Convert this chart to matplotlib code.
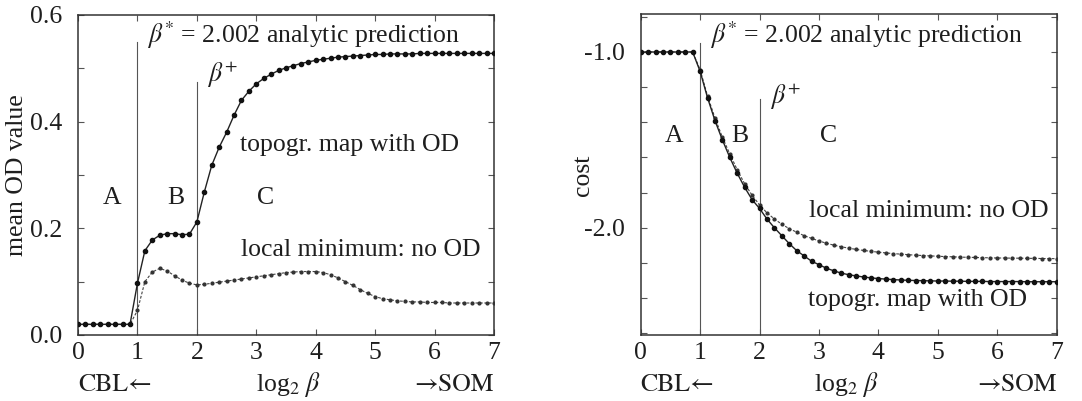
import matplotlib
matplotlib.use("Agg")
import matplotlib.pyplot as plt
from matplotlib.ticker import MultipleLocator, FixedLocator, FuncFormatter
import matplotlib.transforms as mtransforms

plt.rcParams["font.family"] = ["Liberation Serif", "DejaVu Serif"]
plt.rcParams["mathtext.fontset"] = "stix"

# log2(beta) grid, step 1/8
log2_beta = [
    0.0, 0.125, 0.25, 0.375, 0.5, 0.625, 0.75, 0.875,
    1.0, 1.125, 1.25, 1.375, 1.5, 1.625, 1.75, 1.875,
    2.0, 2.125, 2.25, 2.375, 2.5, 2.625, 2.75, 2.875,
    3.0, 3.125, 3.25, 3.375, 3.5, 3.625, 3.75, 3.875,
    4.0, 4.125, 4.25, 4.375, 4.5, 4.625, 4.75, 4.875,
    5.0, 5.125, 5.25, 5.375, 5.5, 5.625, 5.75, 5.875,
    6.0, 6.125, 6.25, 6.375, 6.5, 6.625, 6.75, 6.875,
    7.0,
]

# mean OD value
od_topo = [
    0.02, 0.02, 0.02, 0.02, 0.02, 0.02, 0.02, 0.02,
    0.097, 0.158, 0.178, 0.187, 0.190, 0.190, 0.188, 0.189,
    0.212, 0.268, 0.318, 0.352, 0.380, 0.412, 0.440, 0.457,
    0.471, 0.481, 0.489, 0.496, 0.501, 0.505, 0.509, 0.512,
    0.515, 0.517, 0.519, 0.521, 0.522, 0.523, 0.524, 0.525,
    0.526, 0.526, 0.527, 0.527, 0.527, 0.527, 0.528, 0.528,
    0.528, 0.528, 0.528, 0.528, 0.528, 0.528, 0.528, 0.528,
    0.528,
]
od_local = [
    0.02, 0.02, 0.02, 0.02, 0.02, 0.02, 0.02, 0.02,
    0.046, 0.100, 0.118, 0.125, 0.120, 0.111, 0.103, 0.097,
    0.094, 0.095, 0.097, 0.099, 0.101, 0.103, 0.105, 0.107,
    0.109, 0.111, 0.113, 0.115, 0.117, 0.118, 0.119, 0.119,
    0.119, 0.117, 0.113, 0.107, 0.100, 0.093, 0.085, 0.078,
    0.072, 0.068, 0.066, 0.064, 0.063, 0.062, 0.062, 0.061,
    0.061, 0.061, 0.060, 0.060, 0.060, 0.060, 0.060, 0.060,
    0.060,
]

# cost
cost_topo = [
    -1.0, -1.0, -1.0, -1.0, -1.0, -1.0, -1.0, -1.0,
    -1.11, -1.26, -1.39, -1.50, -1.60, -1.69, -1.77, -1.84,
    -1.89, -1.95, -2.00, -2.045, -2.09, -2.13, -2.16, -2.19,
    -2.21, -2.23, -2.245, -2.258, -2.267, -2.274, -2.28, -2.285,
    -2.289, -2.292, -2.295, -2.297, -2.299, -2.300, -2.301, -2.302,
    -2.303, -2.303, -2.304, -2.304, -2.305, -2.305, -2.305, -2.306,
    -2.306, -2.306, -2.306, -2.306, -2.307, -2.307, -2.307, -2.307,
    -2.307,
]
cost_local = [
    -1.0, -1.0, -1.0, -1.0, -1.0, -1.0, -1.0, -1.0,
    -1.10, -1.25, -1.375, -1.485, -1.58, -1.67, -1.75, -1.815,
    -1.87, -1.915, -1.95, -1.98, -2.005, -2.025, -2.045, -2.06,
    -2.075, -2.088, -2.099, -2.108, -2.116, -2.123, -2.129, -2.134,
    -2.139, -2.143, -2.147, -2.150, -2.153, -2.156, -2.158, -2.160,
    -2.162, -2.164, -2.165, -2.167, -2.168, -2.169, -2.170, -2.171,
    -2.172, -2.172, -2.173, -2.173, -2.174, -2.174, -2.175, -2.175,
    -2.176,
]

ink = "#1e1e1e"
fs = 18.5

fig = plt.figure(figsize=(10.82, 4.01), dpi=100)
ax1 = fig.add_axes([0.0721, 0.1646, 0.3845, 0.798])
ax2 = fig.add_axes([0.5921, 0.1646, 0.3845, 0.800])


def style(ax):
    for s in ax.spines.values():
        s.set_color("#333333")
        s.set_linewidth(1.1)
    ax.tick_params(which="both", direction="in", top=True, right=True,
                   length=4, width=0.8, color="#555555",
                   labelsize=fs, labelcolor=ink)
    ax.tick_params(axis="x", pad=5)
    ax.tick_params(axis="y", pad=11)
    ax.set_xlim(0, 7)
    ax.xaxis.set_major_locator(MultipleLocator(1))


def curves(ax, topo, local):
    ax.plot(log2_beta, local, color="#444444", lw=0.8, dashes=(2.5, 1.5),
            marker="o", ms=2.0, mec="#333333", mfc="#333333", zorder=3)
    ax.plot(log2_beta, topo, color="#222222", lw=1.0,
            marker="o", ms=3.0, mec="#111111", mfc="#111111", zorder=4)


# left panel: mean OD value
style(ax1)
ax1.set_ylim(0, 0.6)
ax1.yaxis.set_major_locator(MultipleLocator(0.2))
ax1.yaxis.set_minor_locator(MultipleLocator(0.1))
ax1.yaxis.set_major_formatter(FuncFormatter(lambda v, p: "%.1f" % v))
ax1.plot([1, 1], [0, 0.55], color="#555555", lw=0.8)
ax1.plot([2, 2], [0, 0.475], color="#555555", lw=0.8)
curves(ax1, od_topo, od_local)
ax1.text(1.16, 0.562, r"$\beta^{*}$ = 2.002 analytic prediction", fontsize=fs,
         color=ink, va="center", ha="left")
ax1.text(2.17, 0.487, r"$\beta^{+}$", fontsize=fs, color=ink, va="center")
ax1.text(2.72, 0.356, "topogr. map with OD", fontsize=fs, color=ink, va="center")
ax1.text(2.74, 0.159, "local minimum: no OD", fontsize=fs, color=ink, va="center")
ax1.text(0.57, 0.257, "A", fontsize=fs, color=ink, va="center", ha="center")
ax1.text(1.65, 0.257, "B", fontsize=fs, color=ink, va="center", ha="center")
ax1.text(3.15, 0.257, "C", fontsize=fs, color=ink, va="center", ha="center")

# right panel: cost
style(ax2)
ax2.set_ylim(-2.61, -0.785)
ax2.yaxis.set_major_locator(FixedLocator([-2.0, -1.0]))
ax2.yaxis.set_minor_locator(FixedLocator([-2.6, -2.4, -2.2, -1.8, -1.6, -1.4, -1.2, -0.8]))
ax2.yaxis.set_major_formatter(FuncFormatter(lambda v, p: "%.1f" % v))
ax2.plot([1, 1], [-2.61, -0.95], color="#555555", lw=0.8)
ax2.plot([2, 2], [-2.61, -1.27], color="#555555", lw=0.8)
curves(ax2, cost_topo, cost_local)
ax2.text(1.17, -0.903, r"$\beta^{*}$ = 2.002 analytic prediction", fontsize=fs,
         color=ink, va="center", ha="left")
ax2.text(2.18, -1.254, r"$\beta^{+}$", fontsize=fs, color=ink, va="center")
ax2.text(2.84, -1.907, "local minimum: no OD", fontsize=fs, color=ink, va="center")
ax2.text(2.82, -2.41, "topogr. map with OD", fontsize=fs, color=ink, va="center")
ax2.text(0.57, -1.48, "A", fontsize=fs, color=ink, va="center", ha="center")
ax2.text(1.67, -1.48, "B", fontsize=fs, color=ink, va="center", ha="center")
ax2.text(3.16, -1.48, "C", fontsize=fs, color=ink, va="center", ha="center")

# x labels row
for ax, cx in ((ax1, 3.54), (ax2, 3.47)):
    tr = mtransforms.blended_transform_factory(ax.transData, ax.transAxes)
    ax.text(0.0, -0.155, "CBL\u2190", transform=tr, fontsize=fs,
            family=["STIXGeneral", "DejaVu Serif"],
            color=ink, ha="left", va="center")
    ax.text(cx, -0.155, r"log$_2$ $\beta$", transform=tr, fontsize=fs,
            color=ink, ha="center", va="center")
    ax.text(7.0, -0.155, "\u2192SOM", transform=tr, fontsize=fs,
            family=["STIXGeneral", "DejaVu Serif"],
            color=ink, ha="right", va="center")

fig.text(0.016, 0.563, "mean OD value", rotation=90, fontsize=fs, color=ink,
         ha="center", va="center")
fig.text(0.539, 0.563, "cost", rotation=90, fontsize=fs, color=ink,
         ha="center", va="center")

fig.savefig("out.png", dpi=100)
